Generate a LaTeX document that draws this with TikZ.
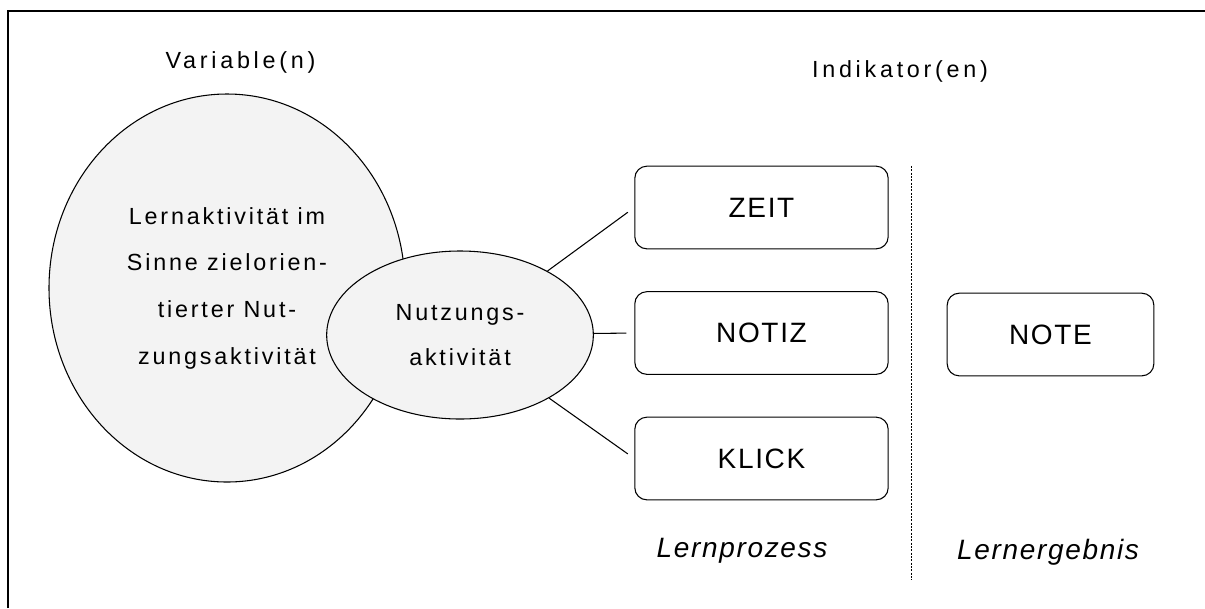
\documentclass[tikz,border=0pt]{standalone}
\usepackage{fontspec}
\setmainfont{Liberation Sans}
\newfontfamily\headfont{Liberation Sans}[LetterSpace=16]
\newfontfamily\ellfont{Liberation Sans}[LetterSpace=12]
\newfontfamily\boxfont{Liberation Sans}[LetterSpace=6]
\usetikzlibrary{shapes.geometric}
\definecolor{ellfill}{RGB}{243,243,243}
\begin{document}
\begin{tikzpicture}[x=0.75pt,y=-0.75pt,
  headtxt/.style={font=\headfont\fontsize{17.5}{21}\selectfont, inner sep=0pt},
  labtxt/.style={font=\boxfont\fontsize{21}{25}\selectfont\itshape, inner sep=0pt},
  bubble/.style={ellipse, draw, line width=0.8pt, fill=ellfill, align=center, inner sep=0pt,
    font=\ellfont\fontsize{17.5}{35}\selectfont},
  indbox/.style={rectangle, draw, line width=0.8pt, rounded corners=9pt, fill=white,
    minimum height=62pt, font=\boxfont\fontsize{21}{25}\selectfont},
  link/.style={line width=0.8pt, shorten >=6pt}]
\useasboundingbox (0,0) rectangle (1205,608);
% frame (top and left edges)
\draw[line width=1.6pt] (8,608) -- (8,11) -- (1205,11);
% headings
\node[headtxt, anchor=base] (var) at (240.5,68) {Variable(n)};
\node[headtxt, anchor=base] (ind) at (900,77) {Indikator(en)};
% ellipses
\node[bubble, minimum width=267pt, minimum height=291pt] (lern) at (227,288)
  {Lernaktivität im\\Sinne zielorien-\\tierter Nut-\\zungsaktivität};
\node[bubble, minimum width=200pt, minimum height=126pt,
  font=\ellfont\fontsize{17.5}{33.75}\selectfont] (nutz) at (460,335)
  {Nutzungs-\\aktivität};
% indicator boxes
\node[indbox, minimum width=190pt] (zeit) at (761.5,207.5) {ZEIT};
\node[indbox, minimum width=190pt] (notiz) at (761.5,333) {NOTIZ};
\node[indbox, minimum width=190pt] (klick) at (761.5,458.5) {KLICK};
\node[indbox, minimum width=155pt] (note) at (1050.5,334.5) {NOTE};
% connectors
\draw[link] (nutz) -- (zeit.west);
\draw[link] (nutz) -- (notiz.west);
\draw[link] (nutz) -- (klick.west);
% dotted separator
\coordinate (septop) at (911,166);
\coordinate (sepbot) at (911,580);
\draw[line width=0.6pt, dash pattern=on 1.5pt off 1pt] (septop) -- (sepbot);
% bottom labels
\node[labtxt, anchor=base] (proz) at (742,557) {Lernprozess};
\node[labtxt, anchor=base] (ergeb) at (1048,559) {Lernergebnis};
\end{tikzpicture}
\end{document}
